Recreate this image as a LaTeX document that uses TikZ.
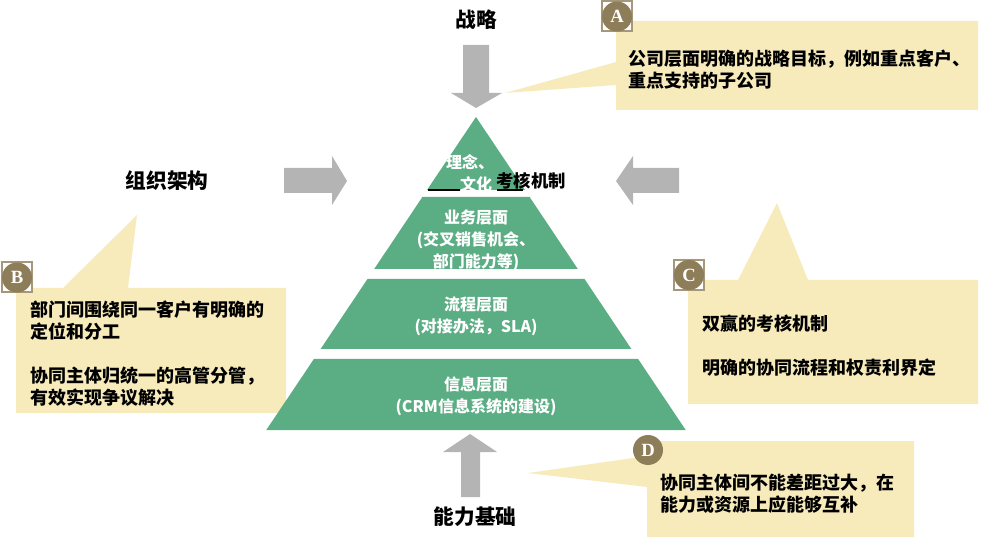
\documentclass[tikz,border=0pt]{standalone}
\usepackage{fontspec}
\setmainfont{Noto Sans CJK SC}
\newfontfamily\badgefont{Liberation Serif}
\definecolor{pyrgreen}{HTML}{5BAD84}
\definecolor{calloutyel}{HTML}{F7EBBB}
\definecolor{arrowgray}{HTML}{B4B4B4}
\definecolor{badgebrown}{HTML}{8D7D59}
\tikzset{
  layer/.style={fill=pyrgreen, draw=none},
  bigarrow/.style={fill=arrowgray, draw=none},
  callout/.style={fill=calloutyel, draw=none},
  title/.style={font=\fontsize{15.5}{18}\selectfont\bfseries, text=black, inner sep=0pt},
  laytext/.style={font=\fontsize{12}{16.5}\selectfont\bfseries, text=white, align=center, inner sep=0pt},
  ctext/.style={font=\fontsize{13.5}{16.5}\selectfont\bfseries, text=black, align=left, inner sep=0pt, anchor=west},
  badgeletter/.style={font=\badgefont\fontsize{14}{14}\selectfont\bfseries, text=white, inner sep=0pt},
}
\begin{document}
\begin{tikzpicture}[x=0.75pt,y=-0.75pt]
\useasboundingbox (0,0) rectangle (982,538);

% ---- callouts (behind) ----
\path[callout] (616,21) -- (978,21) -- (978,110) -- (616,110) -- (616,85) -- (505,93) -- (616,62) -- cycle;
\path[callout] (16,288) -- (63,288) -- (137,215) -- (128,288) -- (286,288) -- (286,413) -- (16,413) -- cycle;
\path[callout] (688,280) -- (738,280) -- (777,203) -- (808,280) -- (978,280) -- (978,404) -- (688,404) -- cycle;
\path[callout] (647,441) -- (914,441) -- (914,537) -- (647,537) -- (647,487) -- (528,473) -- (647,456) -- cycle;

% ---- pyramid ----
\path[layer] (476,117) -- (525,190) -- (427,190) -- cycle;
\path[layer] (422.4,197) -- (529.6,197) -- (577.8,269) -- (374.2,269) -- cycle;
\path[layer] (367.5,279) -- (584.5,279) -- (631.4,349) -- (320.6,349) -- cycle;
\path[layer] (313.9,359) -- (638.1,359) -- (685.7,430) -- (266.3,430) -- cycle;

% top triangle texts
\node[laytext] (t1) at (470,162) {理念、};
\begin{scope}
  \clip (0,0) rectangle (982,190);
  \node[laytext] (t2) at (476,184) {文化};
\end{scope}
\node[font=\fontsize{13}{16}\selectfont\bfseries, inner sep=0pt] (t3) at (531,181) {考核机制};
\draw[line width=1.2pt] (428,190) -- (460,190);
\draw[line width=1.2pt] (497,190) -- (523,190);

% band texts
\begin{scope}
  \clip (422.4,197) -- (529.6,197) -- (577.8,269) -- (374.2,269) -- cycle;
  \node[laytext] (b1) at (476,240) {业务层面\\(交叉销售机会、\\部门能力等)};
\end{scope}
\node[laytext] (b2) at (476,316) {流程层面\\(对接办法，SLA)};
\node[laytext] (b3) at (476,396) {信息层面\\(CRM信息系统的建设)};

% ---- big arrows ----
\path[bigarrow] (463,45) -- (489,45) -- (489,93) -- (502,93) -- (476,108) -- (451,93) -- (463,93) -- cycle;
\path[bigarrow] (284,168) -- (332,168) -- (332,156) -- (347,181) -- (332,205) -- (332,193) -- (284,193) -- cycle;
\path[bigarrow] (679,168) -- (633,168) -- (633,156) -- (616,181) -- (633,205) -- (633,193) -- (679,193) -- cycle;
\path[bigarrow] (461,497) -- (461,452) -- (443,452) -- (470,434) -- (497,452) -- (480,452) -- (480,497) -- cycle;

% ---- titles ----
\node[title] (strat) at (476,20) {战略};
\node[title] (org) at (167,181) {组织架构};
\node[title] (cap) at (475,517) {能力基础};

% ---- callout texts ----
\node[ctext] (ta) at (628,70) {公司层面明确的战略目标，例如重点客户、\\重点支持的子公司};
\node[ctext] (tb) at (30,354) {部门间围绕同一客户有明确的\\定位和分工\\[16.5pt]协同主体归统一的高管分管，\\有效实现争议解决};
\node[ctext] (tc) at (702,345.5) {双赢的考核机制\\[16.5pt]明确的协同流程和权责利界定};
\node[ctext] (td) at (660,493.5) {协同主体间不能差距过大，在\\能力或资源上应能够互补};

% ---- badges ----
\foreach \nm/\cx/\cy/\lt in {bA/617/16.5/A, bB/17/277.5/B, bC/689/275/C}{
  \path[fill=white, draw=badgebrown!80, line width=1.5pt] (\cx-15,\cy-15) rectangle (\cx+15,\cy+15);
  \path[fill=badgebrown] (\cx,\cy) circle[radius=15];
  \node[badgeletter] (\nm) at (\cx,\cy) {\lt};
}
\path[fill=badgebrown] (648,450) circle[radius=15];
\node[badgeletter] (bD) at (648,450) {D};
\end{tikzpicture}
\end{document}
